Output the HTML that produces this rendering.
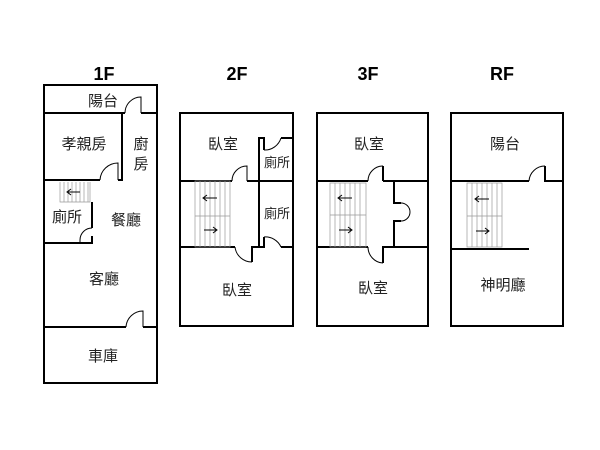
<!DOCTYPE html>
<html><head><meta charset="utf-8"><style>
html,body{margin:0;padding:0;background:#fff;width:600px;height:450px;overflow:hidden}
text{font-family:"Liberation Sans","Noto Sans CJK TC",sans-serif;fill:#222}
.t{font-weight:bold;font-size:18px;fill:#000;text-anchor:middle}
.l{font-size:15px;text-anchor:middle}
.w{stroke:#000;stroke-width:2;fill:none}
.d{stroke:#000;stroke-width:1;fill:none}
.s{stroke:#999;stroke-width:0.7;fill:none}
</style></head><body>
<svg width="600" height="450" viewBox="0 0 600 450">
<text class="t" x="104" y="80">1F</text>
<text class="t" x="237" y="80">2F</text>
<text class="t" x="368" y="80">3F</text>
<text class="t" x="502" y="80">RF</text>

<!-- 1F -->
<rect class="w" x="44" y="85" width="113" height="298"/>
<path class="w" d="M44 113H125M141 113H157"/>
<path class="d" d="M125 113A16 16 0 0 1 141 97V113"/>
<path class="w" d="M44 180H100M118 180H122V113"/>
<path class="d" d="M100 180A18 18 0 0 1 118 163V180"/>
<g class="s"><path d="M60 182V202H90V182M64 182V202M68 182V202M72 182V202M76 182V202M80 182V202M84 182V202M88 182V202"/></g>
<path class="d" d="M80 192H68M71 189L67 192L71 195"/>
<path class="w" d="M92 202V228M44 243H92V236"/>
<path class="d" d="M92 228A12 12 0 0 0 80 240V243H92"/>
<path class="w" d="M44 327H126M143 327H157"/>
<path class="d" d="M126 327A17 17 0 0 1 143 311V327"/>
<text class="l" x="103" y="106">陽台</text>
<text class="l" x="84" y="149">孝親房</text>
<text class="l" x="141" y="149">廚</text>
<text class="l" x="141" y="169">房</text>
<text class="l" x="67" y="222">廁所</text>
<text class="l" x="126" y="225">餐廳</text>
<text class="l" x="104" y="284">客廳</text>
<text class="l" x="103" y="361">車庫</text>

<!-- 2F -->
<rect class="w" x="180" y="113" width="113" height="213"/>
<path class="w" d="M180 181H232M247 181H293"/>
<path class="d" d="M232 181A15 15 0 0 1 247 166V181"/>
<path class="w" d="M259 247V138H264V150M281 138H293"/>
<path class="d" d="M264 150A17 17 0 0 0 281 138"/>
<path class="w" d="M180 247H235M252 262V247H264V237M281 247H293"/>
<path class="d" d="M235 247A17 17 0 0 0 252 262M264 237A17 17 0 0 1 281 247"/>
<g class="s"><rect x="195" y="181" width="35" height="66"/><path d="M195 216H230M200 181V247M205 181V247M210 181V247M215 181V247M220 181V247M225 181V247"/></g>
<path class="d" d="M217 198H204M207 195L203 198L207 201M204 230H216M213 227L217 230L213 233"/>
<text class="l" x="223" y="149">臥室</text>
<text class="l" x="277" y="167" style="font-size:13px">廁所</text>
<text class="l" x="277" y="218" style="font-size:13px">廁所</text>
<text class="l" x="237" y="295">臥室</text>

<!-- 3F -->
<rect class="w" x="317" y="113" width="111" height="213"/>
<path class="w" d="M317 181H368M383 181V166M383 181H428M394 181V203H401M401 221H394V247M317 247H368M383 263V247H428"/>
<path class="d" d="M368 181A15 15 0 0 1 383 166M401 203A9 9 0 0 1 401 221M368 247A16 16 0 0 0 383 263"/>
<g class="s"><rect x="330" y="183" width="36" height="64"/><path d="M330 215H366M335 183V247M340 183V247M345 183V247M350 183V247M355 183V247M360 183V247"/></g>
<path class="d" d="M352 198H339M342 195L338 198L342 201M339 230H351M348 227L352 230L348 233"/>
<text class="l" x="369" y="149">臥室</text>
<text class="l" x="373" y="293">臥室</text>

<!-- RF -->
<rect class="w" x="451" y="113" width="112" height="213"/>
<path class="w" d="M451 181H529M545 166V181H563M451 249H529"/>
<path class="d" d="M529 181A16 16 0 0 1 545 166"/>
<g class="s"><rect x="467" y="183" width="35" height="64"/><path d="M467 216H502M472 183V247M477 183V247M482 183V247M487 183V247M492 183V247M497 183V247"/></g>
<path class="d" d="M489 199H476M479 196L475 199L479 202M476 231H488M485 228L489 231L485 234"/>
<text class="l" x="505" y="149">陽台</text>
<text class="l" x="503" y="290">神明廳</text>
</svg>
</body></html>
